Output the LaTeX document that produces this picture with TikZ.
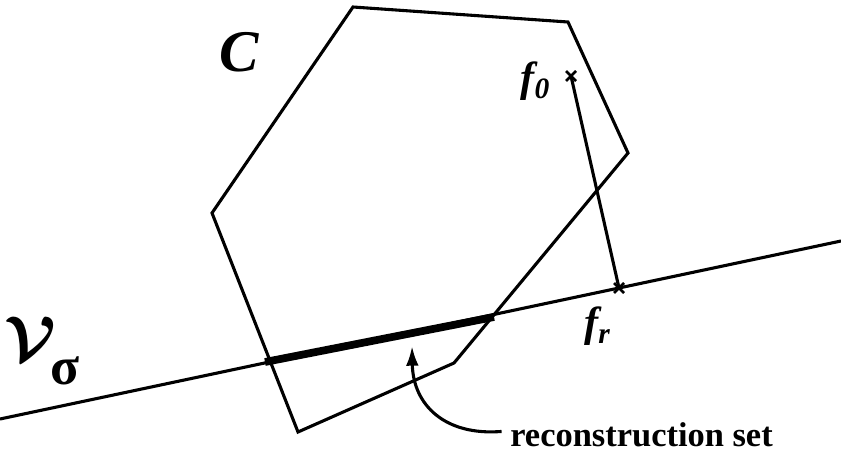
\documentclass[tikz,border=0pt]{standalone}
\usepackage{fontspec}
\setmainfont{Liberation Serif}
\usetikzlibrary{arrows.meta,calc}

\newcommand{\lsub}[1]{\raisebox{-5pt}{\fontsize{21}{21}\selectfont #1}}

\begin{document}
\begin{tikzpicture}[x=0.025cm, y=-0.025cm,
    edge/.style={line width=2.2pt, line join=miter},
    segment/.style={line width=5.5pt},
    lab/.style={font=\bfseries\itshape\fontsize{30}{30}\selectfont, inner sep=0pt},
    cross/.style={line width=1.8pt},
    arr/.style={line width=2.2pt, -{Latex[length=14pt,width=9pt]}}
  ]
  \useasboundingbox (0,0) rectangle (841,454);

  % convex set C
  \coordinate (c1) at (353,7);
  \coordinate (c2) at (568,22);
  \coordinate (c3) at (628,153);
  \coordinate (c4) at (454,363);
  \coordinate (c5) at (298,432);
  \coordinate (c6) at (212,213);
  \draw[edge] (c1) -- (c2) -- (c3) -- (c4) -- (c5) -- (c6) -- cycle;

  % subspace and reconstruction set
  \coordinate (v0) at (0,419);
  \coordinate (v1) at (841,241);
  \draw[edge] (v0) -- (v1);
  \coordinate (ra) at (265,362);
  \coordinate (rb) at (494,317);
  \draw[segment] (ra) -- (rb);

  % projection f0 -> fr
  \coordinate (f0) at (571,76);
  \coordinate (fr) at (619,288);
  \draw[edge] (f0) -- (fr);
  \foreach \p in {f0,fr}{
    \draw[cross] ($(\p)+(-5,-5)$) -- ($(\p)+(5,5)$);
    \draw[cross] ($(\p)+(-5,5)$) -- ($(\p)+(5,-5)$);
  }

  % labels
  \node[lab, font=\bfseries\itshape\fontsize{42}{42}\selectfont] (clab) at (239,52) {C};
  \node[lab] (f0lab) at (535,81) {f\lsub{0}};
  \node[lab] (frlab) at (597,326) {f\lsub{r}};
  \node[inner sep=0pt] (vlab) at (42,351)
    {\scalebox{4.5}{\boldmath$\mathcal{V}$}\hspace{-4pt}\raisebox{-17pt}{\bfseries\fontsize{38}{38}\selectfont σ}};
  \node[font=\bfseries\fontsize{24.5}{24.5}\selectfont, inner sep=0pt, anchor=base west]
    (rset) at (510,446) {reconstruction set};

  \draw[arr] ([xshift=-6pt,yshift=2pt]rset.west) .. controls (445,436) and (413,405) .. (412,346);
\end{tikzpicture}
\end{document}
